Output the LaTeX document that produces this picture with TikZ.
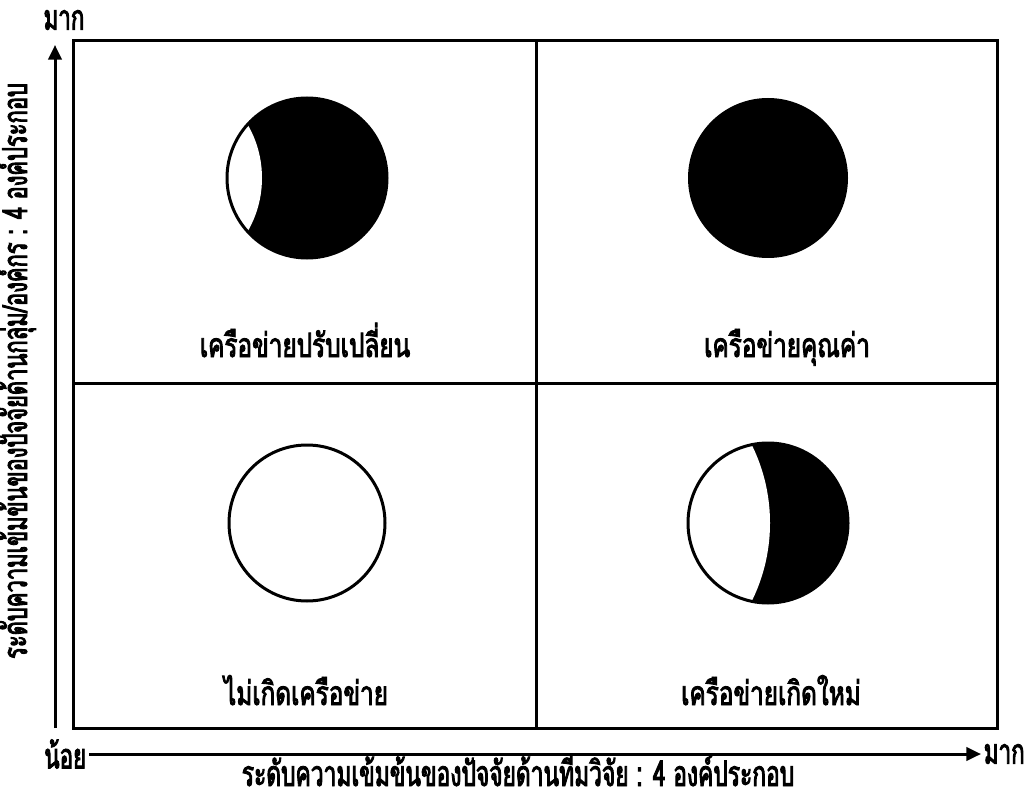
\documentclass[tikz,border=0pt]{standalone}
\usepackage{fontspec}
\newfontfamily\thaifont[Script=Thai, FakeStretch=0.645, FakeBold=2.6]{Loma}
\newfontfamily\thaicell[Script=Thai, FakeStretch=0.73, FakeBold=2.6]{Loma}
\usetikzlibrary{arrows.meta}
\begin{document}
\begin{tikzpicture}[x=0.75pt,y=-0.75pt,line width=2.25pt,
  lbl/.style={font=\thaicell\fontsize{25pt}{30pt}\selectfont, inner sep=0pt, anchor=base},
  axis title/.style={font=\thaifont\fontsize{26.5pt}{30pt}\selectfont, inner sep=0pt, anchor=base, text depth=0pt},
  axlbl/.style={font=\thaifont\fontsize{26pt}{30pt}\selectfont, inner sep=1pt},
  tip/.style={-{Triangle[length=11pt,width=10pt]}}]
\useasboundingbox (0,0) rectangle (1031,802);
% frame
\draw (73,41) rectangle (997,728);
\draw (536,41) -- (536,728);
\draw (73,383) -- (997,383);
% axes
\coordinate (yb) at (55,728);
\coordinate (yt) at (55,45);
\draw[tip] (yb) -- (yt);
\node[axlbl] (ytop) at (64,20) {มาก};
\node[axlbl, anchor=east] (lo) at (89,754) {น้อย};
\node[axlbl, anchor=west] (hi) at (981,754) {มาก};
\draw[tip] (lo.east) -- (hi.west);
\node[axis title] (xl) at (518,786) {ระดับความเข้มข้นของปัจจัยด้านทีมวิจัย : 4 องค์ประกอบ};
\node[axis title, font=\thaifont\fontsize{25.5pt}{30pt}\selectfont, rotate=90] (yl) at (27,371) {ระดับความเข้มข้นของปัจจัยด้านกลุ่ม/องค์กร : 4 องค์ประกอบ};
% circles
\fill (307,178) circle (80);
\begin{scope}
  \clip (307,178) circle (80);
  \fill[white] (155.5,178) circle (106.5);
\end{scope}
\draw (307,178) circle (80);
\fill (768,178) circle (80);
\draw (307,523) circle (78);
\fill (768,523) circle (80);
\begin{scope}
  \clip (768,523) circle (80);
  \fill[white] (594,523) circle (176);
\end{scope}
\draw (768,523) circle (80);
% labels
\node[lbl] (q1) at (305,357) {เครือข่ายปรับเปลี่ยน};
\node[lbl] (q2) at (787,357) {เครือข่ายคุณค่า};
\node[lbl] (q3) at (306,705) {ไม่เกิดเครือข่าย};
\node[lbl] (q4) at (771,705) {เครือข่ายเกิดใหม่};
\end{tikzpicture}
\end{document}
